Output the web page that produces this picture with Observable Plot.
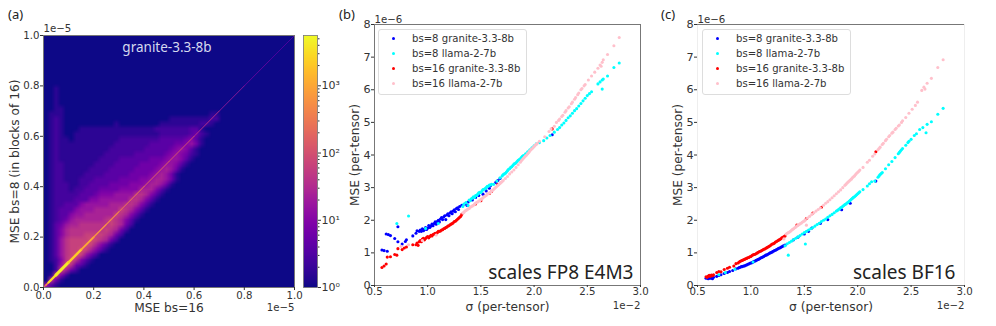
<!DOCTYPE html>
<html><head><meta charset="utf-8">
<script src="https://cdn.jsdelivr.net/npm/d3@7"></script>
<script src="https://cdn.jsdelivr.net/npm/@observablehq/plot@0.6"></script>
<style>
html,body{margin:0;padding:0;background:#fff;width:996px;height:326px;overflow:hidden;font-family:"DejaVu Sans",sans-serif}
.pane{position:absolute;top:0}
.pane svg{overflow:visible;background:transparent}
.tag{position:absolute;top:5px;font:13px "Noto Sans",sans-serif;color:#222}
.legend{position:absolute;top:29px;width:147px;height:64px;border:1px solid #ddd;border-radius:3px;background:rgba(255,255,255,.85);font-size:10.1px;color:#333}
.legend div{position:absolute;left:33px;white-space:nowrap;line-height:12px}
.legend i{position:absolute;left:-20px;top:4px;width:3px;height:3px;border-radius:50%}
</style></head><body>
<div id="root"></div>
<script>
// Panel (a): histogram levels read per cell, top row first (y 1.0 -> 0), x 0 -> 1, 50 x 50 cells.
// A base-36 digit d is a count of 10^(d/5). Omitted trailing cells are level 0.
const heatRows = [
"","","","","","","","","","",
"001","001","001","001","0011",
"01110000000000000000000000000000011",
"01210000000000000000000001111111122",
"0121000000000010000000011111111221",
"01210001111111111111112222222331",
"01210"+"01111111111"+"1111111"+"2222223"+"4"+"21",
"01211"+"01111111112"+"2222222"+"333334"+"5"+"31",
"01211"+"11111111122"+"2222233"+"33344"+"5"+"641",
"01211"+"11111111222"+"2222333"+"3345"+"6"+"531",
"01211"+"11111112222"+"2233333"+"345"+"6"+"5421",
"01211"+"11111122223"+"3333344"+"45"+"6"+"6531",
"01221"+"11111222233"+"3334444"+"5"+"6"+"6531",
"01221"+"11112222333"+"3344445"+"6"+"7641",
"01221"+"11122223333"+"344445"+"6"+"7641",
"01221"+"11222333334"+"44455"+"6"+"77641",
"01222"+"11223333444"+"4555"+"6"+"77641",
"01222"+"12233344445"+"555"+"7"+"77531",
"01222"+"22333"+"455566"+"66"+"8"+"87531",
"01222"+"2333"+"55666666"+"8"+"87531",
"01223"+"33"+"56666677"+"7"+"8"+"87531",
"01233"+"3"+"56667777"+"7"+"9"+"87531",
"01233"+"566777777"+"9"+"87531",
"0123467777778987531",
"013467788888898742",
"01357888888898742",
"0135788899998742",
"013689999a98742",
"01368999a97531",
"0136899a97531",
"013689a9642",
"01258a8531",
"0026a8431",
"002a742",
"01952",
"0841",
"631"
];
// Hot ridge along the diagonal: position, count, line weight.
const ridgeAt = [0,.01,.02,.05,.1,.15,.2,.25,.3,.4,.5,.6,.7,.8,.9,1];
const ridgeCount = [40,150,600,3200,4200,2200,1100,650,450,320,200,120,45,20,9,5];
const ridgeWeight = [1.2,1.6,2.2,3,2.4,1.8,1.4,1.1,1,.9,.9,.9,.8,.7,.7,.7];
const heatTicks = [0,.2,.4,.6,.8,1];
const barMajor = [1,10,100,1000];
const barMinor = [2,3,4,5,6,7,8,9,20,30,40,50,60,70,80,90,200,300,400,500,600,700,800,900,2000,3000,4000,5000];
const barLabels = ["10⁰","10¹","10²","10³"];
const xTicks = [.5,1,1.5,2,2.5,3];
const yTicks = [0,1,2,3,4,5,6,7,8];
const seriesNames = ["bs=8 granite-3.3-8b","bs=8 llama-2-7b","bs=16 granite-3.3-8b","bs=16 llama-2-7b"];
const seriesColors = ["blue","cyan","red","pink"];

// Panel (b) scales FP8 E4M3: [sigma 1e-2, MSE 1e-6]
const fp8Granite8 = [[.57,1.09],[.59,1.07],[.62,1.05],[.61,1.58],[.63,1.56],[.65,1.53],[.69,1.44],[.72,1.34],[.72,1.8],[.76,1.27],[.79,1.35],[.8,1.4],[.86,1.52],[.89,1.6],[.9,1.68],[.92,1.66],[.93,1.7],[.94,1.66],[.95,1.74],[.96,1.68],[.97,1.72],[.98,1.78],[.99,1.72],[1,1.76],[1.01,1.84],[1.02,1.78],[1.03,1.82],[1.04,1.88],[1.05,1.83],[1.06,1.9],[1.07,1.95],[1.08,1.88],[1.09,1.96],[1.1,2],[1.11,1.95],[1.12,2.04],[1.13,2.08],[1.14,2.02],[1.15,2.1],[1.16,2.14],[1.17,2.02],[1.18,2.16],[1.19,2.2],[1.2,2.14],[1.21,2.22],[1.22,2.26],[1.23,2.2],[1.24,2.28],[1.25,2.32],[1.26,2.26],[1.27,2.36],[1.28,2.38],[1.29,2.33],[1.3,2.42],[1.32,2.46],[1.35,2.5],[1.37,2.45],[1.38,2.56],[1.42,2.62],[1.45,2.7],[1.48,2.76],[1.52,2.8],[1.55,2.9],[1.58,2.98],[1.59,3.06],[1.64,3.16],[1.66,3.22],[1.68,3.28],[2.17,4.62]];
const fp8Llama8 = [[.71,1.9],[.82,2.13],[.98,1.75],[1.1,1.9],[1.33,2.42],[1.34,2.5],[1.36,2.54],[1.38,2.45],[1.39,2.62],[1.4,2.6],[1.41,2.66],[1.42,2.68],[1.43,2.72],[1.44,2.7],[1.45,2.76],[1.46,2.76],[1.47,2.8],[1.48,2.84],[1.49,2.86],[1.5,2.85],[1.51,2.9],[1.52,2.94],[1.53,2.95],[1.54,2.97],[1.55,3],[1.56,3.04],[1.57,3.04],[1.58,3.08],[1.59,3.08],[1.6,3.1],[1.62,3.1],[1.65,3.2],[1.68,3.3],[1.7,3.36],[1.71,3.4],[1.72,3.42],[1.73,3.44],[1.74,3.48],[1.75,3.52],[1.76,3.56],[1.77,3.58],[1.78,3.62],[1.79,3.64],[1.8,3.68],[1.81,3.72],[1.82,3.74],[1.83,3.76],[1.84,3.8],[1.85,3.84],[1.86,3.86],[1.87,3.88],[1.88,3.92],[1.89,3.96],[1.9,3.98],[1.92,4.04],[1.94,4.1],[1.96,4.16],[1.98,4.22],[2,4.28],[2.02,4.34],[2.05,4.38],[2.09,4.44],[2.12,4.52],[2.15,4.6],[2.19,4.7],[2.22,4.78],[2.24,4.84],[2.26,4.92],[2.28,4.98],[2.3,5.06],[2.32,5.14],[2.34,5.2],[2.36,5.28],[2.38,5.36],[2.4,5.42],[2.42,5.5],[2.44,5.58],[2.46,5.66],[2.48,5.74],[2.5,5.82],[2.52,5.88],[2.54,5.94],[2.6,6.18],[2.62,6.24],[2.64,6.3],[2.65,6.33],[2.64,6.02],[2.69,6.42],[2.75,6.68],[2.8,6.82]];
const fp8Granite16 = [[.57,.55],[.59,.6],[.61,.66],[.62,.87],[.65,.88],[.69,.95],[.71,.93],[.72,1.13],[.76,1.1],[.78,1.15],[.8,1.18],[.86,1.25],[.89,1.25],[.9,1.3],[.91,1.23],[.92,1.34],[.93,1.38],[.94,1.34],[.95,1.42],[.96,1.45],[.97,1.4],[.98,1.44],[.99,1.48],[1,1.5],[1.01,1.46],[1.02,1.5],[1.03,1.54],[1.04,1.52],[1.05,1.56],[1.06,1.58],[1.07,1.6],[1.08,1.6],[1.09,1.62],[1.1,1.66],[1.11,1.66],[1.12,1.67],[1.13,1.7],[1.14,1.71],[1.15,1.74],[1.16,1.75],[1.17,1.78],[1.18,1.79],[1.19,1.82],[1.2,1.83],[1.21,1.86],[1.22,1.88],[1.23,1.9],[1.24,1.92],[1.25,1.96],[1.26,1.97],[1.27,2],[1.28,2.03],[1.29,2.06],[1.3,2.09],[1.31,2.12],[1.32,2.18],[1.45,2.5],[1.5,2.6],[1.58,2.82],[1.6,2.88],[1.66,3.1],[2.17,4.8]];
const fp8Llama16 = [[.75,1.2],[.82,1.25],[.95,1.38],[1.08,1.55],[1.33,2.22],[1.34,2.24],[1.35,2.28],[1.36,2.3],[1.37,2.32],[1.38,2.35],[1.39,2.36],[1.4,2.4],[1.41,2.42],[1.42,2.44],[1.43,2.46],[1.44,2.5],[1.45,2.52],[1.46,2.55],[1.47,2.56],[1.48,2.59],[1.49,2.6],[1.5,2.64],[1.51,2.66],[1.52,2.69],[1.53,2.72],[1.54,2.74],[1.55,2.76],[1.56,2.8],[1.57,2.82],[1.58,2.84],[1.59,2.86],[1.6,2.9],[1.61,2.92],[1.62,2.95],[1.63,2.98],[1.64,3.01],[1.65,3.04],[1.66,3.07],[1.67,3.1],[1.68,3.13],[1.69,3.16],[1.7,3.19],[1.71,3.22],[1.73,3.28],[1.75,3.34],[1.77,3.42],[1.79,3.48],[1.81,3.54],[1.83,3.62],[1.85,3.7],[1.87,3.78],[1.88,3.82],[1.89,3.86],[1.9,3.9],[1.91,3.94],[1.92,3.97],[1.93,4],[1.94,4.04],[1.95,4.08],[1.96,4.12],[1.97,4.16],[1.98,4.19],[1.99,4.22],[2,4.26],[2.01,4.3],[2.02,4.33],[2.03,4.36],[2.05,4.42],[2.1,4.56],[2.14,4.72],[2.16,4.8],[2.19,4.88],[2.21,5],[2.23,5.06],[2.24,5.1],[2.26,5.18],[2.27,5.22],[2.29,5.31],[2.3,5.36],[2.32,5.44],[2.33,5.48],[2.35,5.57],[2.36,5.62],[2.38,5.71],[2.39,5.76],[2.41,5.85],[2.42,5.9],[2.44,6],[2.45,6.04],[2.47,6.12],[2.48,6.16],[2.51,6.3],[2.54,6.42],[2.57,6.54],[2.6,6.66],[2.62,6.76],[2.64,6.84],[2.65,6.92],[2.63,6.72],[2.69,7.08],[2.75,7.35],[2.8,7.6]];

// Panel (c) scales BF16
const bfGranite8 = [[.58,.22],[.59,.24],[.6,.21],[.61,.23],[.62,.22],[.63,.25],[.64,.21],[.65,.25],[.68,.28],[.7,.31],[.72,.33],[.75,.37],[.78,.4],[.8,.43],[.83,.46],[.86,.51],[.88,.53],[.89,.55],[.9,.56],[.91,.58],[.92,.58],[.93,.6],[.94,.6],[.95,.62],[.96,.63],[.97,.65],[.98,.66],[.99,.68],[1,.69],[1.01,.7],[1.02,.72],[1.03,.74],[1.04,.75],[1.05,.77],[1.06,.79],[1.07,.8],[1.08,.82],[1.09,.84],[1.1,.86],[1.11,.87],[1.12,.89],[1.13,.91],[1.14,.93],[1.15,.94],[1.16,.96],[1.17,.98],[1.18,1],[1.19,1.01],[1.2,1.03],[1.21,1.05],[1.22,1.07],[1.23,1.08],[1.24,1.1],[1.25,1.12],[1.26,1.14],[1.27,1.15],[1.28,1.17],[1.29,1.19],[1.3,1.21],[1.31,1.22],[1.32,1.24],[1.4,1.4],[1.44,1.48],[1.5,1.58],[1.54,1.66],[1.57,1.76],[1.65,1.9],[1.72,2.02],[1.85,2.32],[1.93,2.52],[2.17,3.2]];
const bfLlama8 = [[.7,.33],[.76,.4],[.85,.5],[1.02,.72],[1.35,.93],[1.51,1.27],[1.32,1.22],[1.34,1.28],[1.36,1.32],[1.38,1.36],[1.4,1.41],[1.42,1.45],[1.44,1.49],[1.46,1.53],[1.48,1.58],[1.5,1.62],[1.52,1.66],[1.54,1.7],[1.56,1.74],[1.58,1.78],[1.6,1.82],[1.62,1.87],[1.64,1.91],[1.66,1.96],[1.68,2],[1.7,2.04],[1.72,2.09],[1.74,2.14],[1.76,2.18],[1.78,2.23],[1.8,2.28],[1.81,2.3],[1.82,2.33],[1.83,2.35],[1.84,2.38],[1.85,2.4],[1.86,2.43],[1.87,2.45],[1.88,2.48],[1.89,2.5],[1.9,2.53],[1.91,2.55],[1.92,2.58],[1.93,2.61],[1.94,2.64],[1.95,2.67],[1.96,2.7],[1.97,2.72],[1.98,2.75],[1.99,2.78],[2,2.81],[2.01,2.84],[2.02,2.87],[2.05,2.94],[2.09,3.05],[2.11,3.12],[2.13,3.18],[2.16,3.2],[2.19,3.32],[2.2,3.36],[2.21,3.4],[2.22,3.43],[2.23,3.46],[2.26,3.58],[2.29,3.7],[2.32,3.8],[2.35,3.92],[2.38,4.04],[2.39,4.08],[2.4,4.12],[2.41,4.16],[2.42,4.2],[2.45,4.3],[2.47,4.38],[2.48,4.42],[2.5,4.48],[2.53,4.6],[2.55,4.65],[2.58,4.78],[2.61,4.84],[2.64,4.68],[2.65,4.94],[2.69,5.02],[2.75,5.25],[2.8,5.43]];
const bfGranite16 = [[.58,.27],[.59,.25],[.6,.29],[.61,.31],[.62,.28],[.63,.32],[.64,.3],[.65,.33],[.68,.4],[.7,.43],[.72,.42],[.75,.49],[.78,.53],[.8,.56],[.84,.6],[.86,.67],[.88,.69],[.89,.72],[.9,.74],[.91,.76],[.92,.77],[.93,.79],[.94,.8],[.95,.82],[.96,.83],[.97,.85],[.98,.86],[.99,.88],[1,.89],[1.01,.92],[1.02,.94],[1.03,.95],[1.04,.96],[1.05,.98],[1.06,1],[1.07,1.02],[1.08,1.04],[1.09,1.05],[1.1,1.07],[1.11,1.09],[1.12,1.11],[1.13,1.12],[1.14,1.14],[1.15,1.16],[1.16,1.18],[1.17,1.2],[1.18,1.22],[1.19,1.25],[1.2,1.27],[1.21,1.28],[1.22,1.3],[1.23,1.33],[1.24,1.35],[1.25,1.37],[1.26,1.39],[1.27,1.41],[1.28,1.43],[1.29,1.46],[1.3,1.48],[1.31,1.5],[1.32,1.52],[1.43,1.85],[1.52,2.05],[1.58,2.22],[1.66,2.4],[2.17,4.1]];
const bfLlama16 = [[1.31,1.43],[1.52,1.85],[1.33,1.58],[1.34,1.6],[1.35,1.62],[1.36,1.64],[1.37,1.66],[1.38,1.69],[1.39,1.72],[1.4,1.74],[1.41,1.77],[1.42,1.79],[1.43,1.82],[1.44,1.84],[1.45,1.87],[1.46,1.89],[1.47,1.91],[1.48,1.94],[1.49,1.96],[1.5,1.98],[1.51,2.01],[1.53,2.07],[1.55,2.12],[1.57,2.18],[1.59,2.23],[1.61,2.28],[1.63,2.33],[1.65,2.38],[1.68,2.46],[1.7,2.52],[1.72,2.57],[1.74,2.63],[1.76,2.69],[1.78,2.75],[1.8,2.81],[1.82,2.87],[1.84,2.93],[1.86,3],[1.88,3.07],[1.89,3.1],[1.9,3.14],[1.91,3.17],[1.92,3.2],[1.93,3.23],[1.94,3.26],[1.95,3.3],[1.96,3.33],[1.97,3.36],[1.98,3.4],[1.99,3.44],[2,3.47],[2.01,3.5],[2.02,3.54],[2.05,3.62],[2.09,3.78],[2.11,3.84],[2.14,3.96],[2.16,4.03],[2.19,4.16],[2.2,4.2],[2.21,4.24],[2.23,4.32],[2.24,4.36],[2.26,4.44],[2.27,4.48],[2.29,4.56],[2.3,4.6],[2.32,4.67],[2.33,4.7],[2.35,4.78],[2.36,4.82],[2.38,4.89],[2.39,4.92],[2.41,5],[2.42,5.05],[2.45,5.15],[2.48,5.28],[2.51,5.4],[2.54,5.52],[2.56,5.62],[2.6,5.98],[2.62,6.08],[2.63,6.02],[2.65,6.2],[2.69,6.35],[2.75,6.68],[2.8,6.92]];

const tickColor = "#333", frameColor = "#777";
const tickFont = 10.2, labelFont = 12.2;
const pageFont = {fontFamily:"DejaVu Sans",fontSize:tickFont+"px",background:"transparent",overflow:"visible",color:tickColor};
const root = document.getElementById("root");
function place(node,left){const d=document.createElement("div");d.className="pane";d.style.left=left+"px";d.appendChild(node);root.appendChild(d);return d;}
function tag(text,left){const d=document.createElement("div");d.className="tag";d.style.left=left+"px";d.textContent=text;root.appendChild(d);}

// Panel (a)
const heatValues = heatRows.flatMap(r=>[...r.padEnd(50,"0").slice(0,50)].map(c=>10**(parseInt(c,36)/5)));
const ridgeSegments = ridgeAt.slice(0,-1).map((v,i)=>({a:v,b:ridgeAt[i+1],count:ridgeCount[i+1],weight:ridgeWeight[i]}));
const colorScale = {type:"log",scheme:"plasma",domain:[1,5600]};
place(Plot.plot({
  width:340,height:326,marginLeft:43,marginRight:46,marginTop:35,marginBottom:39,
  style:pageFont,color:colorScale,
  x:{domain:[0,1],axis:null},y:{domain:[0,1],axis:null},
  marks:[
    Plot.raster(heatValues,{width:50,height:50,x1:0,x2:1,y1:1,y2:0,fill:d=>d,imageRendering:"auto"}),
    Plot.link(ridgeSegments,{x1:"a",y1:"a",x2:"b",y2:"b",stroke:"count",strokeWidth:"weight",strokeLinecap:"round"}),
    Plot.frame({stroke:frameColor,strokeWidth:1}),
    Plot.axisX({ticks:heatTicks,tickFormat:".1f",tickSize:3,tickPadding:1,label:null,fontSize:tickFont}),
    Plot.axisY({ticks:heatTicks,tickFormat:".1f",tickSize:3,tickPadding:1,label:null,fontSize:tickFont}),
    Plot.text(["MSE bs=16"],{frameAnchor:"bottom",dy:21,lineAnchor:"middle",fontSize:labelFont,fill:tickColor}),
    Plot.text(["MSE bs=8 (in blocks of 16)"],{frameAnchor:"left",dx:-28,rotate:-90,textAnchor:"middle",fontSize:labelFont,fill:tickColor}),
    Plot.text(["1e−5"],{frameAnchor:"top-left",dy:-4,lineAnchor:"bottom",fontSize:tickFont,fill:tickColor}),
    Plot.text(["1e−5"],{frameAnchor:"bottom-right",dy:20,lineAnchor:"middle",fontSize:tickFont,fill:tickColor}),
    Plot.text(["granite-3.3-8b"],{frameAnchor:"top",dy:7,dx:-2,fontSize:13.5,fontFamily:"Noto Sans",fill:"#d5d9ee"})
  ]
}),0);

// Colour bar
place(Plot.plot({
  width:42,height:326,marginLeft:5,marginRight:23,marginTop:35,marginBottom:39,
  style:pageFont,color:colorScale,
  x:{domain:[0,1],axis:null},y:{type:"log",domain:[1,5600],axis:null},
  marks:[
    Plot.raster({fill:(x,y)=>y,x1:0,x2:1,y1:5600,y2:1,pixelSize:1}),
    Plot.frame({stroke:frameColor,strokeWidth:.8}),
    Plot.axisY({anchor:"right",ticks:barMinor,tickFormat:()=>null,tickSize:1.5,label:null,fontSize:1}),
    Plot.axisY({anchor:"right",ticks:barMajor,tickFormat:d=>barLabels[barMajor.indexOf(d)],tickSize:3,tickPadding:1,label:null,fontSize:11})
  ]
}),298);

// Panels (b) and (c)
function scatterPanel(series,left,width,mL,mR,note,noteDx,openSides){
  const seriesData = series.flatMap((pts,k)=>pts.map(p=>({x:p[0],y:p[1],k})));
  return place(Plot.plot({
    width,height:326,marginLeft:mL,marginRight:mR,marginTop:24,marginBottom:41,
    style:pageFont,
    x:{domain:[.5,3],axis:null},y:{domain:[0,8],axis:null},
    marks:[
      Plot.dot(seriesData,{x:"x",y:"y",r:1.55,fill:d=>seriesColors[d.k],stroke:"none"}),
      Plot.frame({stroke:openSides?"#eee":frameColor,strokeWidth:1}),
      openSides?Plot.ruleY([0,8],{stroke:frameColor,strokeWidth:1}):null,
      Plot.axisX({ticks:xTicks,tickFormat:".1f",tickSize:2,tickPadding:0,label:null,fontSize:tickFont}),
      Plot.axisY({ticks:yTicks,tickFormat:"d",tickSize:3,tickPadding:1,label:null,fontSize:tickFont+1}),
      Plot.text(["σ (per-tensor)"],{frameAnchor:"bottom",dy:22,lineAnchor:"middle",fontSize:labelFont,fill:tickColor}),
      Plot.text(["MSE (per-tensor)"],{frameAnchor:"left",dx:-19,rotate:-90,textAnchor:"middle",fontSize:labelFont,fill:tickColor}),
      Plot.text(["1e−6"],{frameAnchor:"top-left",dy:-2,lineAnchor:"bottom",fontSize:tickFont,fill:tickColor}),
      Plot.text(["1e−2"],{frameAnchor:"bottom-right",dy:20,lineAnchor:"middle",fontSize:tickFont,fill:tickColor}),
      Plot.text([note],{frameAnchor:"bottom-right",dy:-13,dx:noteDx,lineAnchor:"middle",fontSize:19,fontFamily:"Noto Sans",fill:"#222"})
    ]
  }),left);
}
scatterPanel([fp8Granite8,fp8Llama8,fp8Granite16,fp8Llama16],335,325,39,20,"scales FP8 E4M3",-7,false);
scatterPanel([bfGranite8,bfLlama8,bfGranite16,bfLlama16],660,336,37,32,"scales BF16",-9,true);

function legend(left){
  const box=document.createElement("div");box.className="legend";box.style.left=left+"px";
  seriesNames.forEach((n,k)=>{
    const row=document.createElement("div");row.style.top=(3+15*k)+"px";row.textContent=n;
    const dot=document.createElement("i");dot.style.background=seriesColors[k];row.prepend(dot);
    box.appendChild(row);
  });
  root.appendChild(box);
}
legend(378);legend(702);
tag("(a)",8);tag("(b)",339);tag("(c)",661);
</script>
</body></html>
